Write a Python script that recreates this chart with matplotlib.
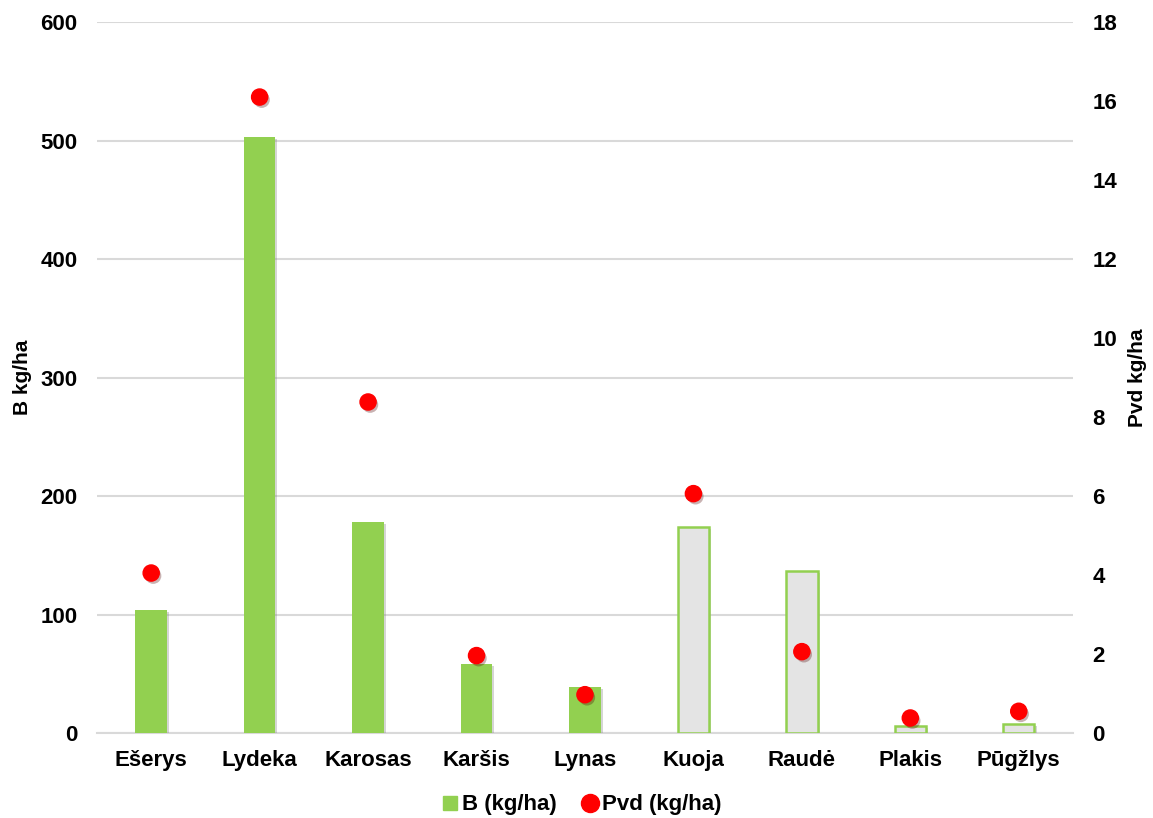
import matplotlib
matplotlib.use("Agg")
import matplotlib.pyplot as plt
from matplotlib import patheffects as pe
from matplotlib.lines import Line2D

plt.rcParams['font.family'] = ['Liberation Sans', 'DejaVu Sans']
plt.rcParams['font.weight'] = 'bold'

# duomenys
species = ['Ešerys', 'Lydeka', 'Karosas', 'Karšis', 'Lynas', 'Kuoja', 'Raudė', 'Plakis', 'Pūgžlys']
b_vals = [104, 503, 178, 58, 39, 174, 137, 6, 8]
pvd_vals = [4.05, 16.1, 8.38, 1.96, 0.97, 6.06, 2.06, 0.38, 0.55]
filled = [True, True, True, True, True, False, False, False, False]

green = '#92D050'
grey_fill = '#E4E4E4'
grid_col = '#D9D9D9'

fig = plt.figure(figsize=(11.53, 8.18), dpi=100)
ax = fig.add_axes([0.0841, 0.1039, 0.8465, 0.8692])
ax2 = ax.twinx()

x = range(len(species))
shadow = [pe.SimplePatchShadow(offset=(1.5, -1.5), shadow_rgbFace='#888888', alpha=0.35), pe.Normal()]

for i in x:
    if filled[i]:
        ax.bar(i, b_vals[i], width=0.29, color=green, zorder=3, path_effects=shadow)
    else:
        ax.bar(i, b_vals[i], width=0.29, color=grey_fill, edgecolor=green, linewidth=1.8,
               zorder=3, path_effects=shadow)

ax2.scatter(x, pvd_vals, s=135, color='#FF0000', zorder=4,
            path_effects=[pe.SimplePatchShadow(offset=(1.5, -2), alpha=0.3), pe.Normal()])

ax.set_xlim(-0.5, len(species) - 0.5)
ax.set_ylim(0, 600)
ax.set_yticks(range(0, 601, 100))
ax2.set_ylim(0, 18)
ax2.set_yticks(range(0, 19, 2))

ax.grid(axis='y', color=grid_col, linewidth=1.5, zorder=0)
ax.set_axisbelow(True)
for a in (ax, ax2):
    for s in a.spines.values():
        s.set_visible(False)
ax.spines['bottom'].set_visible(True)
ax.spines['bottom'].set_color(grid_col)
ax.spines['bottom'].set_linewidth(1.5)

ax.set_xticks(list(x))
ax.set_xticklabels(species)
ax.tick_params(axis='x', length=0, pad=12, labelsize=16)
ax.tick_params(axis='y', length=0, pad=14, labelsize=16)
ax2.tick_params(axis='y', length=0, pad=14, labelsize=16)

ax.set_ylabel('B kg/ha', fontsize=15, fontweight='bold', labelpad=6)
ax2.set_ylabel('Pvd kg/ha', fontsize=15, fontweight='bold', labelpad=8)

handles = [Line2D([], [], marker='s', linestyle='none', color=green, markersize=10),
           Line2D([], [], marker='o', linestyle='none', color='#FF0000', markersize=13)]
fig.legend(handles, ['B (kg/ha)', 'Pvd (kg/ha)'], loc='center', bbox_to_anchor=(0.503, 0.016),
           ncol=2, frameon=False, fontsize=16, handletextpad=0.05, columnspacing=1.0,
           handlelength=1.0)

fig.savefig('out.png', dpi=100)
